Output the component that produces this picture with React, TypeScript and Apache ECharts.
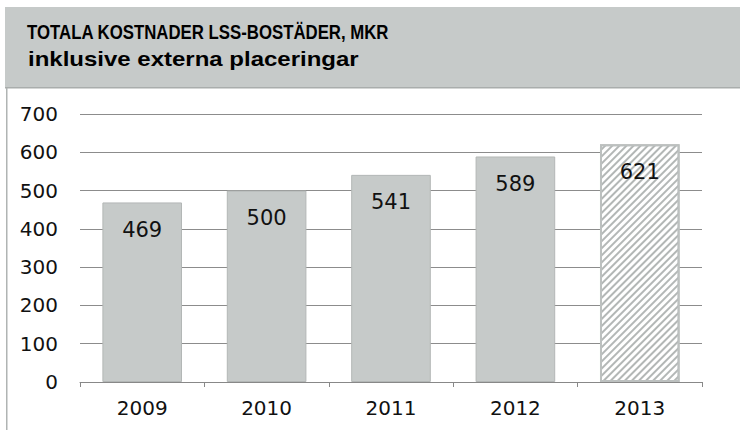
import React, { useEffect, useRef } from "react";
import * as echarts from "echarts";

const categories = ["2009", "2010", "2011", "2012", "2013"];
const values = [469, 500, 541, 589, 621];
const titleLine1 = "TOTALA KOSTNADER LSS-BOSTÄDER, MKR";
const titleLine2 = "inklusive externa placeringar";

export default function App() {
  const ref = useRef<HTMLDivElement>(null);
  useEffect(() => {
    if (!ref.current) return;
    const chart = echarts.init(ref.current, null, { renderer: "svg" });
    const font = "'DejaVu Sans', sans-serif";
    const titleFont = "'Liberation Sans', Arial, sans-serif";
    const data = values.map((v, i) => {
      if (i === values.length - 1) {
        return {
          value: v,
          itemStyle: {
            color: "#ffffff",
            borderColor: "#bcc0bf",
            borderWidth: 2,
            decal: {
              symbol: "rect",
              symbolSize: 1,
              color: "#b3b7b6",
              dashArrayX: [[1, 0]],
              dashArrayY: [1.3, 2.9],
              rotation: -Math.PI / 4,
            },
          },
        };
      }
      return { value: v };
    });
    chart.setOption({
      animation: false,
      backgroundColor: "#ffffff",
      graphic: [
        { type: "rect", shape: { x: 5, y: 7, width: 735, height: 81 }, style: { fill: "#c6cac9" }, silent: true },
        { type: "rect", shape: { x: 5, y: 87, width: 735, height: 1.5 }, style: { fill: "#a9adac" }, silent: true },
        { type: "rect", shape: { x: 6, y: 88, width: 1.5, height: 342 }, style: { fill: "#b0b4b3" }, silent: true },
        {
          type: "text", x: 27, y: 32, scaleX: 0.84,
          style: { text: titleLine1, font: `bold 20px ${titleFont}`, fill: "#000", textVerticalAlign: "middle" },
        },
        {
          type: "text", x: 28, y: 59, scaleX: 1.2,
          style: { text: titleLine2, font: `bold 20px ${titleFont}`, fill: "#000", textVerticalAlign: "middle" },
        },
      ],
      grid: { left: 80, right: 38, top: 114, bottom: 48 },
      xAxis: {
        type: "category",
        data: categories,
        axisLine: { lineStyle: { color: "#888", width: 1 } },
        axisTick: { show: true, length: 5, lineStyle: { color: "#888" } },
        axisLabel: { color: "#111", fontSize: 20, fontFamily: font, margin: 16 },
      },
      yAxis: {
        type: "value",
        min: 0,
        max: 700,
        interval: 100,
        axisLine: { show: false },
        axisTick: { show: false },
        splitLine: { lineStyle: { color: "#8c8c8c", width: 1 } },
        axisLabel: { color: "#111", fontSize: 20, fontFamily: font, margin: 22 },
      },
      series: [
        {
          type: "bar",
          data,
          barWidth: "64%",
          itemStyle: { color: "#c6cac9", borderColor: "#b3b7b6", borderWidth: 1 },
          label: {
            show: true,
            position: "insideTop",
            distance: 17,
            color: "#111",
            fontSize: 21,
            fontFamily: font,
          },
        },
      ],
    });
    return () => chart.dispose();
  }, []);
  return <div ref={ref} style={{ position: "fixed", left: 0, top: 0, width: 740, height: 430 }} />;
}
